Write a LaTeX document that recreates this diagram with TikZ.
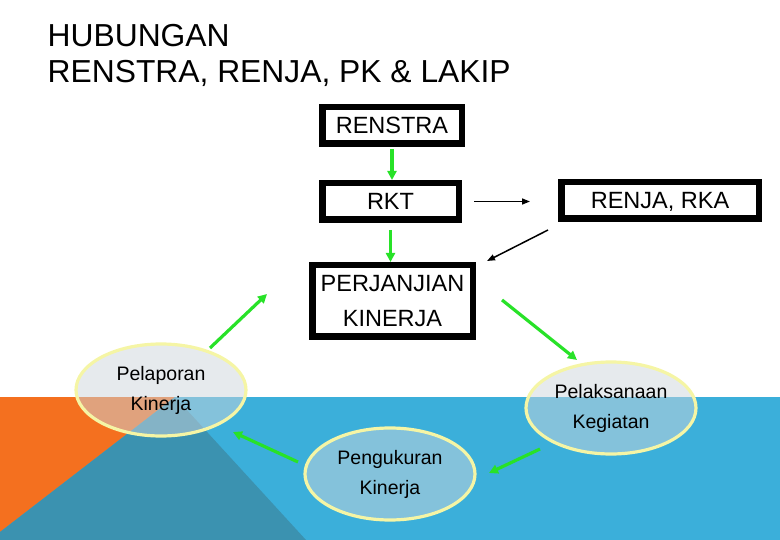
\documentclass[tikz,border=0pt]{standalone}
\usepackage{fontspec}
\setmainfont{Liberation Sans}
\usetikzlibrary{shapes.geometric,arrows.meta}
\definecolor{bandblue}{RGB}{59,175,218}
\definecolor{tealdark}{RGB}{59,146,176}
\definecolor{orng}{RGB}{244,112,31}
\definecolor{grn}{RGB}{40,226,40}
\definecolor{ellfill}{RGB}{205,213,220}
\definecolor{ellline}{RGB}{245,245,165}
\begin{document}
\begin{tikzpicture}[x=1pt,y=-1pt,
 box/.style={draw=black,line width=6.5pt,inner sep=0pt,font=\fontsize{23.5}{35}\selectfont,align=center},
 oval/.style={ellipse,draw=ellline,line width=3.2pt,fill=ellfill,fill opacity=0.5,text opacity=1,minimum width=170pt,minimum height=92pt,inner sep=0pt,align=center,font=\fontsize{19.5}{30}\selectfont},
 garrow/.style={draw=grn,line width=3.2pt,-{Triangle[length=9pt,width=9pt]}},
 karrow/.style={draw=black,line width=1.5pt,-{Triangle[length=8pt,width=6pt]}},
 title/.style={anchor=base west,inner sep=0pt,font=\fontsize{31.8}{36}\selectfont}]
\useasboundingbox (0,0) rectangle (780,540);
\fill[bandblue] (0,397) rectangle (780,540);
\fill[orng] (0,397) -- (175,397) -- (0,532) -- cycle;
\fill[tealdark] (0,532) -- (175,397) -- (306,540) -- (0,540) -- cycle;
\node[title] (t1) at (47.5,47) {HUBUNGAN};
\node[title] (t2) at (47.5,83) {RENSTRA, RENJA, PK \& LAKIP};
\node[box,minimum width=139.5pt,minimum height=36.5pt] (renstra) at (392,125.5) {RENSTRA};
\node[box,minimum width=136.5pt,minimum height=36.5pt] (rkt) at (390.5,201.5) {RKT};
\node[box,minimum width=197.5pt,minimum height=36.5pt,text depth=0pt] (renja) at (660,200.5) {RENJA, RKA};
\node[box,minimum width=160.5pt,minimum height=71.5pt] (pk) at (392.5,301) {PERJANJIAN\\KINERJA};
\node[oval] (lap) at (161,390) {Pelaporan\\Kinerja};
\node[oval] (lak) at (611,408) {Pelaksanaan\\Kegiatan};
\node[oval] (ukur) at (390,474) {Pengukuran\\Kinerja};
\draw[garrow,shorten <=2pt] (renstra.south) -- (renstra.south |- rkt.north);
\draw[garrow,shorten <=7pt] (rkt.south) -- (rkt.south |- pk.north);
\draw[karrow,shorten <=12pt,shorten >=28pt] (rkt.east) -- (rkt.east -| renja.west);
\draw[karrow] ([shift={(-10,8)}]renja.south west) -- ([shift={(11,-1)}]pk.north east);
\draw[garrow] ([shift={(26,-1)}]pk.east) -- ([shift={(-34,-48)}]lak.center);
\draw[garrow] ([shift={(-71,41)}]lak.center) -- ([shift={(99,-1)}]ukur.center);
\draw[garrow] ([shift={(-92,-12)}]ukur.center) -- ([shift={(72,42)}]lap.center);
\draw[garrow] ([shift={(49,-42)}]lap.center) -- ([shift={(-42,-7)}]pk.west);
\end{tikzpicture}
\end{document}
